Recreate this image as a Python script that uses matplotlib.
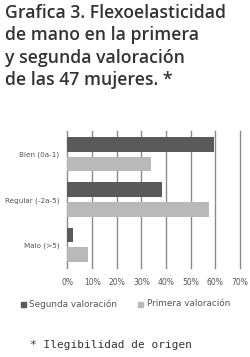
import matplotlib
matplotlib.use("Agg")
import matplotlib.pyplot as plt
from matplotlib.patches import Rectangle

categories = ["Bien (0a-1)", "Regular (-2a-5)", "Malo (>5)"]
segunda = [59.6, 38.3, 2.1]
primera = [34.0, 57.4, 8.5]
xticks = [0, 10, 20, 30, 40, 50, 60, 70]
xticklabels = ["0%", "10%", "20%", "30%", "40%", "50%", "60%", "70%"]
series_names = ["Segunda valoración", "Primera valoración"]

dark = "#5a5a5a"
light = "#b9b9b9"
W, H = 251, 357
fig = plt.figure(figsize=(W / 100, H / 100), dpi=100)

ax = fig.add_axes([67.5 / W, 1 - 268 / H, 172.5 / W, 137 / H])
y = list(range(len(categories)))
h = 0.32
off = 0.215
ax.barh([v - off for v in y], segunda, height=h, color=dark, zorder=3)
ax.barh([v + off for v in y], primera, height=h, color=light, zorder=3)
ax.set_xlim(0, 70)
ax.set_ylim(2.51, -0.51)
ax.set_xticks(xticks)
ax.set_xticklabels(xticklabels, fontsize=5.5, color="#555555", family="DejaVu Sans")
ax.set_yticks(y)
ax.set_yticklabels(categories, fontsize=5.2, color="#555555", family="DejaVu Sans")
ax.tick_params(length=0)
ax.tick_params(axis="x", pad=7)
ax.tick_params(axis="y", pad=6)
for s in ax.spines.values():
    s.set_visible(False)
ax.grid(axis="x", color="#8a8a8a", linewidth=1.0, zorder=1)
for gl in ax.xaxis.get_gridlines():
    gl.set_clip_on(False)
ax.set_axisbelow(True)

title = "Grafica 3. Flexoelasticidad\nde mano en la primera\ny segunda valoración\nde las 47 mujeres. *"
fig.text(5 / W, 1 - 4 / H, title, ha="left", va="top", fontsize=12.7,
         family="Open Sans", weight="semibold", color="#333333", linespacing=1.32)

# legend
ly = 1 - 304 / H
fig.patches.append(Rectangle((21 / W, ly - 2.5 / H), 5 / W, 5 / H, transform=fig.transFigure,
                             color=dark))
fig.text(29 / W, ly, series_names[0], ha="left", va="center", fontsize=6.4,
         color="#555555", family="DejaVu Sans")
fig.patches.append(Rectangle((138 / W, ly - 2.5 / H), 5 / W, 5 / H, transform=fig.transFigure,
                             color=light))
fig.text(147 / W, ly, series_names[1], ha="left", va="center", fontsize=6.4,
         color="#555555", family="DejaVu Sans")

fig.text(30 / W, 1 - 345 / H, "* Ilegibilidad de origen", ha="left", va="center",
         fontsize=8.0, family="DejaVu Sans Mono", color="#333333")

fig.savefig("out.png", dpi=100)
